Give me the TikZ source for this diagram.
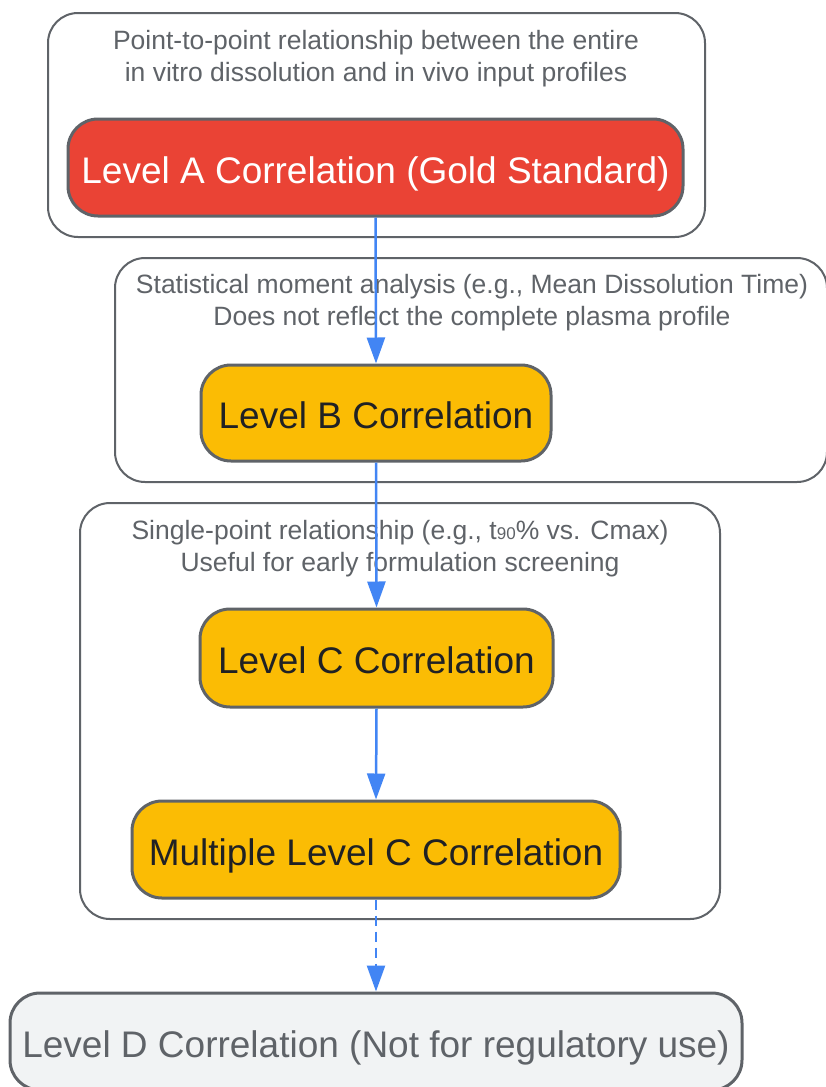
\documentclass[tikz,border=0pt]{standalone}
\usepackage{fontspec}
\setmainfont{Liberation Sans}
\usetikzlibrary{arrows.meta}
\definecolor{gborder}{HTML}{5F6368}
\definecolor{gred}{HTML}{EA4335}
\definecolor{gyellow}{HTML}{FBBC04}
\definecolor{glight}{HTML}{F1F3F4}
\definecolor{gtext}{HTML}{202124}
\definecolor{gblue}{HTML}{4285F4}
\tikzset{
  cluster/.style={draw=gborder, line width=2pt, rounded corners=30pt, fill=white},
  clabel/.style={text=gborder, align=center, font=\fontsize{26.5}{31.5}\selectfont, inner sep=0pt},
  stepbox/.style={draw=gborder, line width=3pt, rounded corners=30pt, font=\fontsize{37}{40}\selectfont, inner sep=0pt, text height=31pt, text depth=0pt},
  flow/.style={draw=gblue, line width=2.5pt, -{Triangle[length=26pt,width=18pt]}},
}
\begin{document}
\begin{tikzpicture}[x=1pt,y=-1pt]
\useasboundingbox (0,0) rectangle (825,1087);
% clusters
\draw[cluster] (48,13) rectangle (705,237);
\draw[cluster] (115,258) rectangle (827,482);
\draw[cluster] (80,503) rectangle (720,919);
\node[clabel] (la) at (376,58.5) {Point-to-point relationship between the entire\\in vitro dissolution and in vivo input profiles};
\node[clabel] (lb) at (472,302.5) {Statistical moment analysis (e.g., Mean Dissolution Time)\\Does not reflect the complete plasma profile};
\node[clabel] (lc) at (400,548.5) {Single-point relationship (e.g., t{\fontsize{17}{17}\selectfont 90}\% vs. Cmax)\\Useful for early formulation screening};
% nodes
\node[stepbox, fill=gred, text=white, minimum width=615pt, minimum height=97pt] (a) at (375.5,167.5) {Level A Correlation (Gold Standard)};
\node[stepbox, fill=gyellow, text=gtext, minimum width=350pt, minimum height=96pt] (b) at (376,413) {Level B Correlation};
\node[stepbox, fill=gyellow, text=gtext, minimum width=353pt, minimum height=98pt] (c) at (376.5,658) {Level C Correlation};
\node[stepbox, fill=gyellow, text=gtext, minimum width=488pt, minimum height=97pt] (m) at (376,849.5) {Multiple Level C Correlation};
\node[stepbox, fill=glight, text=gborder, minimum width=732pt, minimum height=97pt] (d) at (376,1041.5) {Level D Correlation (Not for regulatory use)};
% connectors
\draw[flow] (a.south) -- (b.north);
\draw[flow] (b.south) -- (c.north);
\draw[flow] (c.south) -- (m.north);
\draw[flow, dash pattern=on 10pt off 6pt] (m.south) -- (d.north);
\end{tikzpicture}
\end{document}
